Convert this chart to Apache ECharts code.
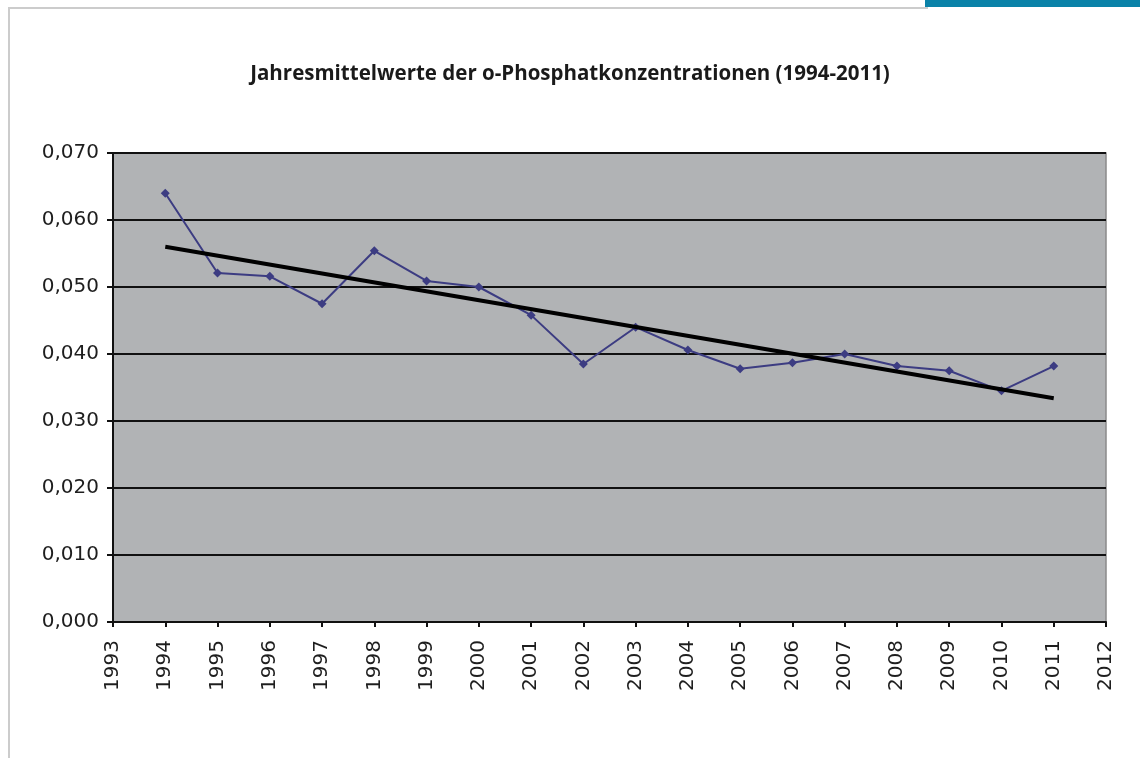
<!DOCTYPE html>
<html>
<head>
<meta charset="utf-8">
<script src="https://cdn.jsdelivr.net/npm/echarts@6/dist/echarts.min.js"></script>
<style>
html,body{margin:0;padding:0;background:#fff;}
#chart{width:1140px;height:758px;}
</style>
</head>
<body>
<div id="chart"></div>
<script>
// Data
var titleText = 'Jahresmittelwerte der o-Phosphatkonzentrationen (1994-2011)';
var years = [1994,1995,1996,1997,1998,1999,2000,2001,2002,2003,2004,2005,2006,2007,2008,2009,2010,2011];
var values = [0.0640,0.0521,0.0516,0.0475,0.0554,0.0509,0.0500,0.0458,0.0385,0.0440,0.0406,0.0378,0.0387,0.0400,0.0382,0.0375,0.0345,0.0382];
var trendYears = [1994, 2011];
var trendValues = [0.0560, 0.0334];
var xMin = 1993, xMax = 2012, xStep = 1;
var yMin = 0, yMax = 0.07, yStep = 0.01;

var seriesData = years.map(function(y,i){return [y, values[i]];});
var trendData = trendYears.map(function(y,i){return [y, trendValues[i]];});

var chart = echarts.init(document.getElementById('chart'), null, {renderer:'canvas'});
chart.setOption({
  backgroundColor:'#ffffff',
  animation:false,
  title:{
    text:titleText,
    left:'center',
    top:59,
    textStyle:{fontFamily:'"Open Sans", sans-serif',fontWeight:'bold',fontSize:20.5,color:'#1a1a1a'}
  },
  graphic:[
    {type:'rect',shape:{x:8,y:8,width:2,height:760},style:{fill:'#cccccc'},silent:true},
    {type:'rect',shape:{x:8,y:7,width:920,height:2},style:{fill:'#cccccc'},silent:true},
    {type:'rect',shape:{x:925,y:0,width:215,height:7},style:{fill:'#0a82a8'},silent:true}
  ],
  grid:{
    left:113, right:34, top:153, bottom:136,
    show:true, backgroundColor:'#b1b3b5', borderColor:'#8a8a8a', borderWidth:1.5
  },
  xAxis:{
    type:'value', min:xMin, max:xMax, interval:xStep,
    axisLine:{show:true,onZero:false,lineStyle:{color:'#111',width:2}},
    axisTick:{show:true,length:5,lineStyle:{color:'#111',width:2}},
    splitLine:{show:false},
    axisLabel:{rotate:90,margin:18,fontFamily:'"DejaVu Sans", sans-serif',fontSize:20,color:'#1e1e1e',
      formatter:function(v){return String(v);}}
  },
  yAxis:{
    type:'value', min:yMin, max:yMax, interval:yStep,
    axisLine:{show:true,onZero:false,lineStyle:{color:'#111',width:2}},
    axisTick:{show:true,length:6,lineStyle:{color:'#111',width:2}},
    splitLine:{show:true,lineStyle:{color:'#111',width:2}},
    axisLabel:{margin:14,fontFamily:'"DejaVu Sans", sans-serif',fontSize:20,color:'#1e1e1e',
      formatter:function(v){return v.toFixed(3).replace('.',',');}}
  },
  series:[
    {
      type:'line', data:seriesData,
      symbol:'diamond', symbolSize:9,
      lineStyle:{color:'#3c3c82',width:2},
      itemStyle:{color:'#3c3c82'},
      z:3
    },
    {
      type:'line', data:trendData,
      symbol:'none',
      lineStyle:{color:'#000000',width:4},
      z:4
    }
  ]
});
</script>
</body>
</html>
